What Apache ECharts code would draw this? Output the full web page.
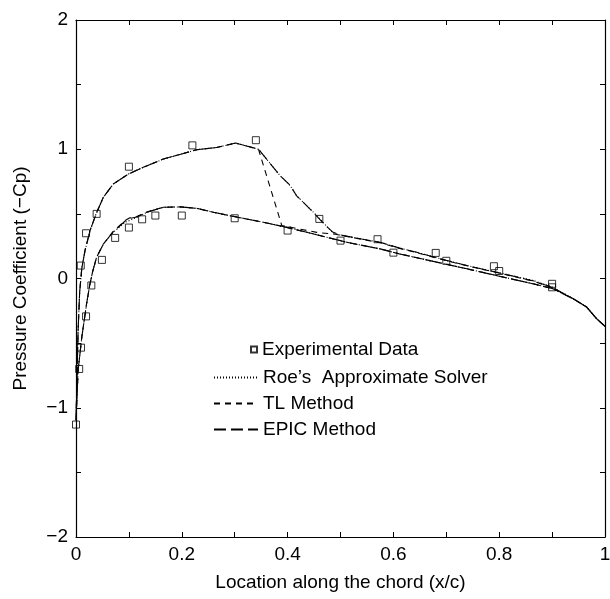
<!DOCTYPE html>
<html>
<head>
<meta charset="utf-8">
<script src="https://cdn.jsdelivr.net/npm/echarts@6/dist/echarts.min.js"></script>
<style>
  html, body { margin: 0; padding: 0; background: #fff; }
  #chart { width: 610px; height: 599px; }
</style>
</head>
<body>
<div id="chart"></div>
<script>
// Experimental pressure taps (x/c, -Cp)
const expX = [0.0, 0.006, 0.0095, 0.009, 0.019, 0.019, 0.029, 0.039, 0.049, 0.074, 0.10, 0.10, 0.125, 0.15, 0.20,
              0.22, 0.30, 0.34, 0.40, 0.46, 0.50, 0.57, 0.60, 0.68, 0.70, 0.79, 0.80, 0.90, 0.90];
const expY = [-1.13, -0.70, -0.535, 0.10, -0.293, 0.35, -0.054, 0.50, 0.144, 0.314, 0.865, 0.394, 0.458, 0.487, 0.487,
              1.03, 0.466, 1.07, 0.371, 0.461, 0.293, 0.304, 0.20, 0.198, 0.137, 0.095, 0.058, -0.041, -0.068];

// Roe's approximate solver: upper surface (TE -> LE) followed by lower surface (LE -> TE)
const roeX = [1.0, 0.984, 0.965, 0.94, 0.90, 0.864, 0.80, 0.739, 0.70, 0.644, 0.612, 0.575, 0.54, 0.50, 0.485,
              0.467, 0.449, 0.417, 0.405, 0.386, 0.345, 0.302, 0.266, 0.228, 0.165, 0.127, 0.099, 0.0705, 0.0516,
              0.038, 0.0265, 0.017, 0.011, 0.007, 0.004, 0.002, 0.0,
              0.004, 0.011, 0.02, 0.026, 0.032, 0.039, 0.052, 0.0705, 0.093, 0.115, 0.134, 0.165, 0.197, 0.228,
              0.26, 0.291, 0.354, 0.389, 0.449, 0.512, 0.575, 0.612, 0.70, 0.739, 0.80, 0.864, 0.902, 0.94,
              0.965, 0.984, 1.0];
const roeY = [-0.37, -0.31, -0.22, -0.157, -0.065, -0.015, 0.045, 0.10, 0.14, 0.203, 0.235, 0.28, 0.305, 0.335, 0.355,
              0.435, 0.512, 0.64, 0.718, 0.795, 1.0, 1.048, 1.014, 0.996, 0.924, 0.86, 0.808, 0.731, 0.628,
              0.50, 0.37, 0.216, 0.08, -0.1, -0.4, -0.75, -1.1,
              -0.71, -0.453, -0.196, -0.05, 0.062, 0.165, 0.268, 0.358, 0.435, 0.473, 0.512, 0.551, 0.554, 0.543,
              0.512, 0.486, 0.435, 0.404, 0.345, 0.28, 0.229, 0.19, 0.11, 0.075, 0.018, -0.041, -0.08, -0.157,
              -0.22, -0.31, -0.37];

// TL method: captures the upper-surface shock as a sharp drop
const tlX = [1.0, 0.984, 0.965, 0.94, 0.90, 0.864, 0.80, 0.739, 0.70, 0.644, 0.612, 0.575, 0.54, 0.52, 0.49,
             0.455, 0.42, 0.389, 0.345, 0.302, 0.266, 0.228, 0.165, 0.127, 0.099, 0.0705, 0.0516,
             0.038, 0.0265, 0.017, 0.011, 0.007, 0.004, 0.002, 0.0,
             0.004, 0.011, 0.02, 0.026, 0.032, 0.039, 0.052, 0.0705, 0.093, 0.102, 0.115, 0.134, 0.165, 0.197, 0.228,
             0.26, 0.291, 0.354, 0.389, 0.449, 0.512, 0.575, 0.612, 0.70, 0.739, 0.80, 0.864, 0.902, 0.94,
             0.965, 0.984, 1.0];
const tlY = [-0.37, -0.31, -0.22, -0.157, -0.07, -0.02, 0.042, 0.098, 0.138, 0.2, 0.232, 0.277, 0.303, 0.32, 0.342,
             0.357, 0.385, 0.41, 1.0, 1.048, 1.014, 0.996, 0.924, 0.86, 0.808, 0.731, 0.628,
             0.50, 0.37, 0.216, 0.08, -0.1, -0.4, -0.75, -1.1,
             -0.71, -0.453, -0.196, -0.05, 0.062, 0.165, 0.268, 0.365, 0.45, 0.47, 0.48, 0.515, 0.551, 0.554, 0.543,
             0.512, 0.486, 0.435, 0.404, 0.345, 0.28, 0.229, 0.19, 0.11, 0.075, 0.018, -0.041, -0.08, -0.157,
             -0.22, -0.31, -0.37];

// EPIC method
const epicX = [1.0, 0.984, 0.965, 0.94, 0.90, 0.864, 0.80, 0.739, 0.70, 0.644, 0.612, 0.575, 0.54, 0.50, 0.485,
               0.467, 0.449, 0.417, 0.405, 0.386, 0.345, 0.302, 0.266, 0.228, 0.165, 0.127, 0.099, 0.0705, 0.0516,
               0.038, 0.0265, 0.017, 0.011, 0.007, 0.004, 0.002, 0.0,
               0.004, 0.011, 0.02, 0.026, 0.032, 0.039, 0.052, 0.0705, 0.093, 0.102, 0.115, 0.134, 0.165, 0.197, 0.228,
               0.26, 0.291, 0.354, 0.389, 0.449, 0.512, 0.575, 0.612, 0.70, 0.739, 0.80, 0.864, 0.902, 0.94,
               0.965, 0.984, 1.0];
const epicY = [-0.37, -0.31, -0.22, -0.157, -0.068, -0.018, 0.043, 0.10, 0.14, 0.203, 0.235, 0.28, 0.305, 0.337, 0.36,
               0.43, 0.51, 0.64, 0.72, 0.795, 1.0, 1.048, 1.014, 0.996, 0.924, 0.86, 0.808, 0.731, 0.628,
               0.50, 0.37, 0.216, 0.08, -0.1, -0.4, -0.75, -1.1,
               -0.71, -0.453, -0.196, -0.05, 0.062, 0.165, 0.268, 0.362, 0.445, 0.465, 0.476, 0.513, 0.551, 0.554, 0.543,
               0.512, 0.486, 0.435, 0.404, 0.345, 0.28, 0.229, 0.19, 0.11, 0.075, 0.018, -0.041, -0.08, -0.157,
               -0.22, -0.31, -0.37];

const xTickLabels = ['0', '0.2', '0.4', '0.6', '0.8', '1'];
const yTickLabels = ['\u22122', '\u22121', '0', '1', '2'];

const FONT = "'Liberation Sans', Arial, Helvetica, sans-serif";
const zip = (xs, ys) => xs.map((x, i) => [x, ys[i]]);

const axisCommon = {
  type: 'value',
  axisLine: { show: true, onZero: false, lineStyle: { color: '#000', width: 1.2 } },
  axisTick: { show: true, inside: true, length: 5, lineStyle: { color: '#000', width: 1 } },
  splitLine: { show: false }
};

const xLabel = v => {
  const k = Math.round(v * 10);
  return k % 2 === 0 ? xTickLabels[k / 2] : '';
};
const yLabel = v => {
  const k = Math.round(v * 2);
  return k % 2 === 0 ? yTickLabels[k / 2 + 2] : '';
};

const lineSeries = (name, xs, ys, dash) => ({
  name,
  type: 'line',
  data: zip(xs, ys),
  showSymbol: false,
  symbol: 'none',
  smooth: false,
  silent: true,
  lineStyle: { color: '#000', width: 1.1, type: dash },
  itemStyle: { color: '#000' },
  z: 2
});

const chart = echarts.init(document.getElementById('chart'), null, { renderer: 'canvas' });
chart.setOption({
  animation: false,
  backgroundColor: '#fff',
  textStyle: { fontFamily: FONT, color: '#000' },
  grid: { left: 76, right: 5, top: 20, bottom: 62, containLabel: false, outerBoundsMode: 'none' },
  xAxis: [
    Object.assign({}, axisCommon, {
      min: 0, max: 1, interval: 0.1, position: 'bottom',
      axisLabel: { formatter: xLabel, fontSize: 19, color: '#000', margin: 8, fontFamily: FONT, showMinLabel: true, showMaxLabel: true },
      name: 'Location along the chord (x/c)',
      nameLocation: 'middle', nameGap: 36,
      nameTextStyle: { fontSize: 19, color: '#000', fontFamily: FONT }
    }),
    Object.assign({}, axisCommon, {
      min: 0, max: 1, interval: 0.1, position: 'top',
      axisLabel: { show: false }
    })
  ],
  yAxis: [
    Object.assign({}, axisCommon, {
      min: -2, max: 2, interval: 0.5, position: 'left',
      axisLabel: { formatter: yLabel, fontSize: 19, color: '#000', margin: 8, fontFamily: FONT, showMinLabel: true, showMaxLabel: true },
      name: 'Pressure Coefficient (\u2212Cp)',
      nameLocation: 'middle', nameGap: 46,
      nameTextStyle: { fontSize: 19, color: '#000', fontFamily: FONT }
    }),
    Object.assign({}, axisCommon, {
      min: -2, max: 2, interval: 0.5, position: 'right',
      axisLabel: { show: false }
    })
  ],
  legend: [
    {
      data: [{ name: 'Experimental Data', icon: 'rect' }],
      orient: 'vertical', left: 245, top: 335,
      itemWidth: 6, itemHeight: 6,
      textStyle: { fontSize: 19, color: '#000', fontFamily: FONT },
      selectedMode: false
    },
    {
      data: ['Roe\u2019s  Approximate Solver', 'TL Method', 'EPIC Method'],
      orient: 'vertical', left: 208, top: 363,
      itemWidth: 44, itemHeight: 10, itemGap: 7,
      itemStyle: { opacity: 0 },
      textStyle: { fontSize: 19, color: '#000', fontFamily: FONT },
      selectedMode: false
    }
  ],
  series: [
    lineSeries('Roe\u2019s  Approximate Solver', roeX, roeY, [1, 2]),
    lineSeries('TL Method', tlX, tlY, [6, 5]),
    lineSeries('EPIC Method', epicX, epicY, [12, 5]),
    {
      name: 'Experimental Data',
      type: 'scatter',
      data: zip(expX, expY),
      symbol: 'rect',
      symbolSize: 7,
      silent: true,
      itemStyle: { color: 'rgba(0,0,0,0)', borderColor: '#000', borderWidth: 1 },
      z: 3
    }
  ]
});
</script>
</body>
</html>
